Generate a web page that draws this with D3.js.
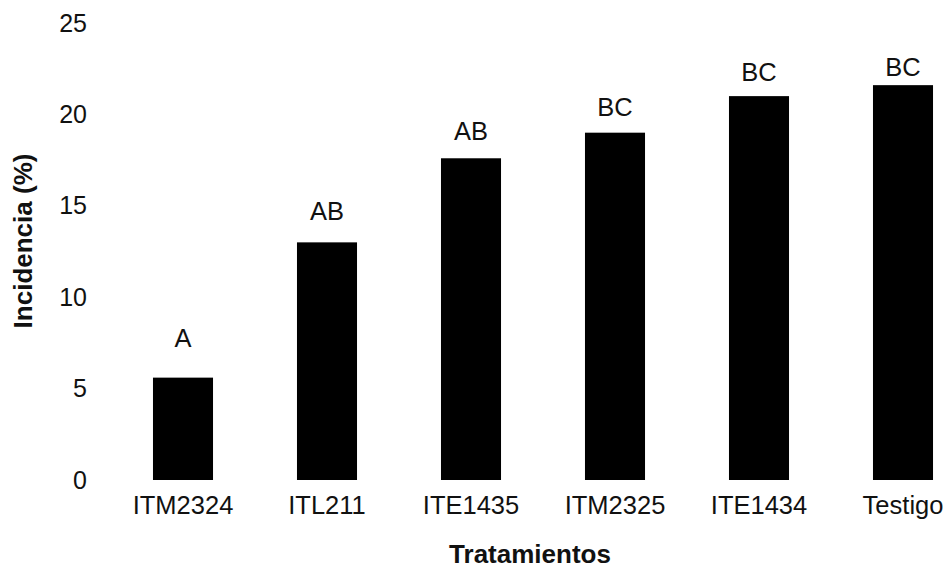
<!DOCTYPE html>
<html>
<head>
<meta charset="utf-8">
<script src="https://cdn.jsdelivr.net/npm/d3@7"></script>
<style>
  body { margin: 0; background: #fff; }
  text { font-family: "Liberation Sans", Arial, sans-serif; fill: #111; }
</style>
</head>
<body>
<svg id="chart" width="950" height="569"></svg>
<script>
// Data
const treatments = ["ITM2324", "ITL211", "ITE1435", "ITM2325", "ITE1434", "Testigo"];
const incidence = [5.6, 13.0, 17.6, 19.0, 21.0, 21.6];
const letters = ["A", "AB", "AB", "BC", "BC", "BC"];
// height (in %) where each significance letter sits
const letterAt = [7.3, 14.2, 18.6, 19.9, 21.8, 22.1];
const yTicks = [0, 5, 10, 15, 20, 25];

const svg = d3.select("#chart");

// Scales
const x = d3.scaleBand()
  .domain(treatments)
  .range([111, 975])
  .paddingInner(0.583)
  .paddingOuter(0.2915);

const y = d3.scaleLinear()
  .domain([0, 25])
  .range([480, 23]);

// Y axis (labels only, no lines)
const yAxis = svg.append("g")
  .attr("transform", "translate(87,0)")
  .call(d3.axisLeft(y).tickValues(yTicks).tickSize(0).tickPadding(0));
yAxis.select(".domain").remove();
yAxis.selectAll("text")
  .attr("font-size", 25)
  .attr("font-family", "Liberation Sans, Arial, sans-serif")
  .attr("fill", "#111");

// X axis
const xAxis = svg.append("g")
  .attr("transform", "translate(0,480)")
  .call(d3.axisBottom(x).tickSize(0).tickPadding(16));
xAxis.select(".domain").remove();
xAxis.selectAll("text")
  .attr("font-size", 25.5)
  .attr("font-family", "Liberation Sans, Arial, sans-serif")
  .attr("fill", "#111");

// Bars
svg.append("g")
  .selectAll("rect")
  .data(treatments)
  .join("rect")
  .attr("x", d => x(d))
  .attr("width", x.bandwidth())
  .attr("y", (d, i) => y(incidence[i]))
  .attr("height", (d, i) => y(0) - y(incidence[i]))
  .attr("fill", "#000");

// Significance letters
svg.append("g")
  .selectAll("text")
  .data(treatments)
  .join("text")
  .attr("x", d => x(d) + x.bandwidth() / 2)
  .attr("y", (d, i) => y(letterAt[i]))
  .attr("text-anchor", "middle")
  .attr("font-size", 25.5)
  .text((d, i) => letters[i]);

// Axis titles
svg.append("text")
  .attr("x", 530)
  .attr("y", 563)
  .attr("text-anchor", "middle")
  .attr("font-size", 26)
  .attr("font-weight", "bold")
  .text("Tratamientos");

svg.append("text")
  .attr("transform", "translate(32,241) rotate(-90)")
  .attr("text-anchor", "middle")
  .attr("font-size", 26)
  .attr("font-weight", "bold")
  .text("Incidencia (%)");
</script>
</body>
</html>
